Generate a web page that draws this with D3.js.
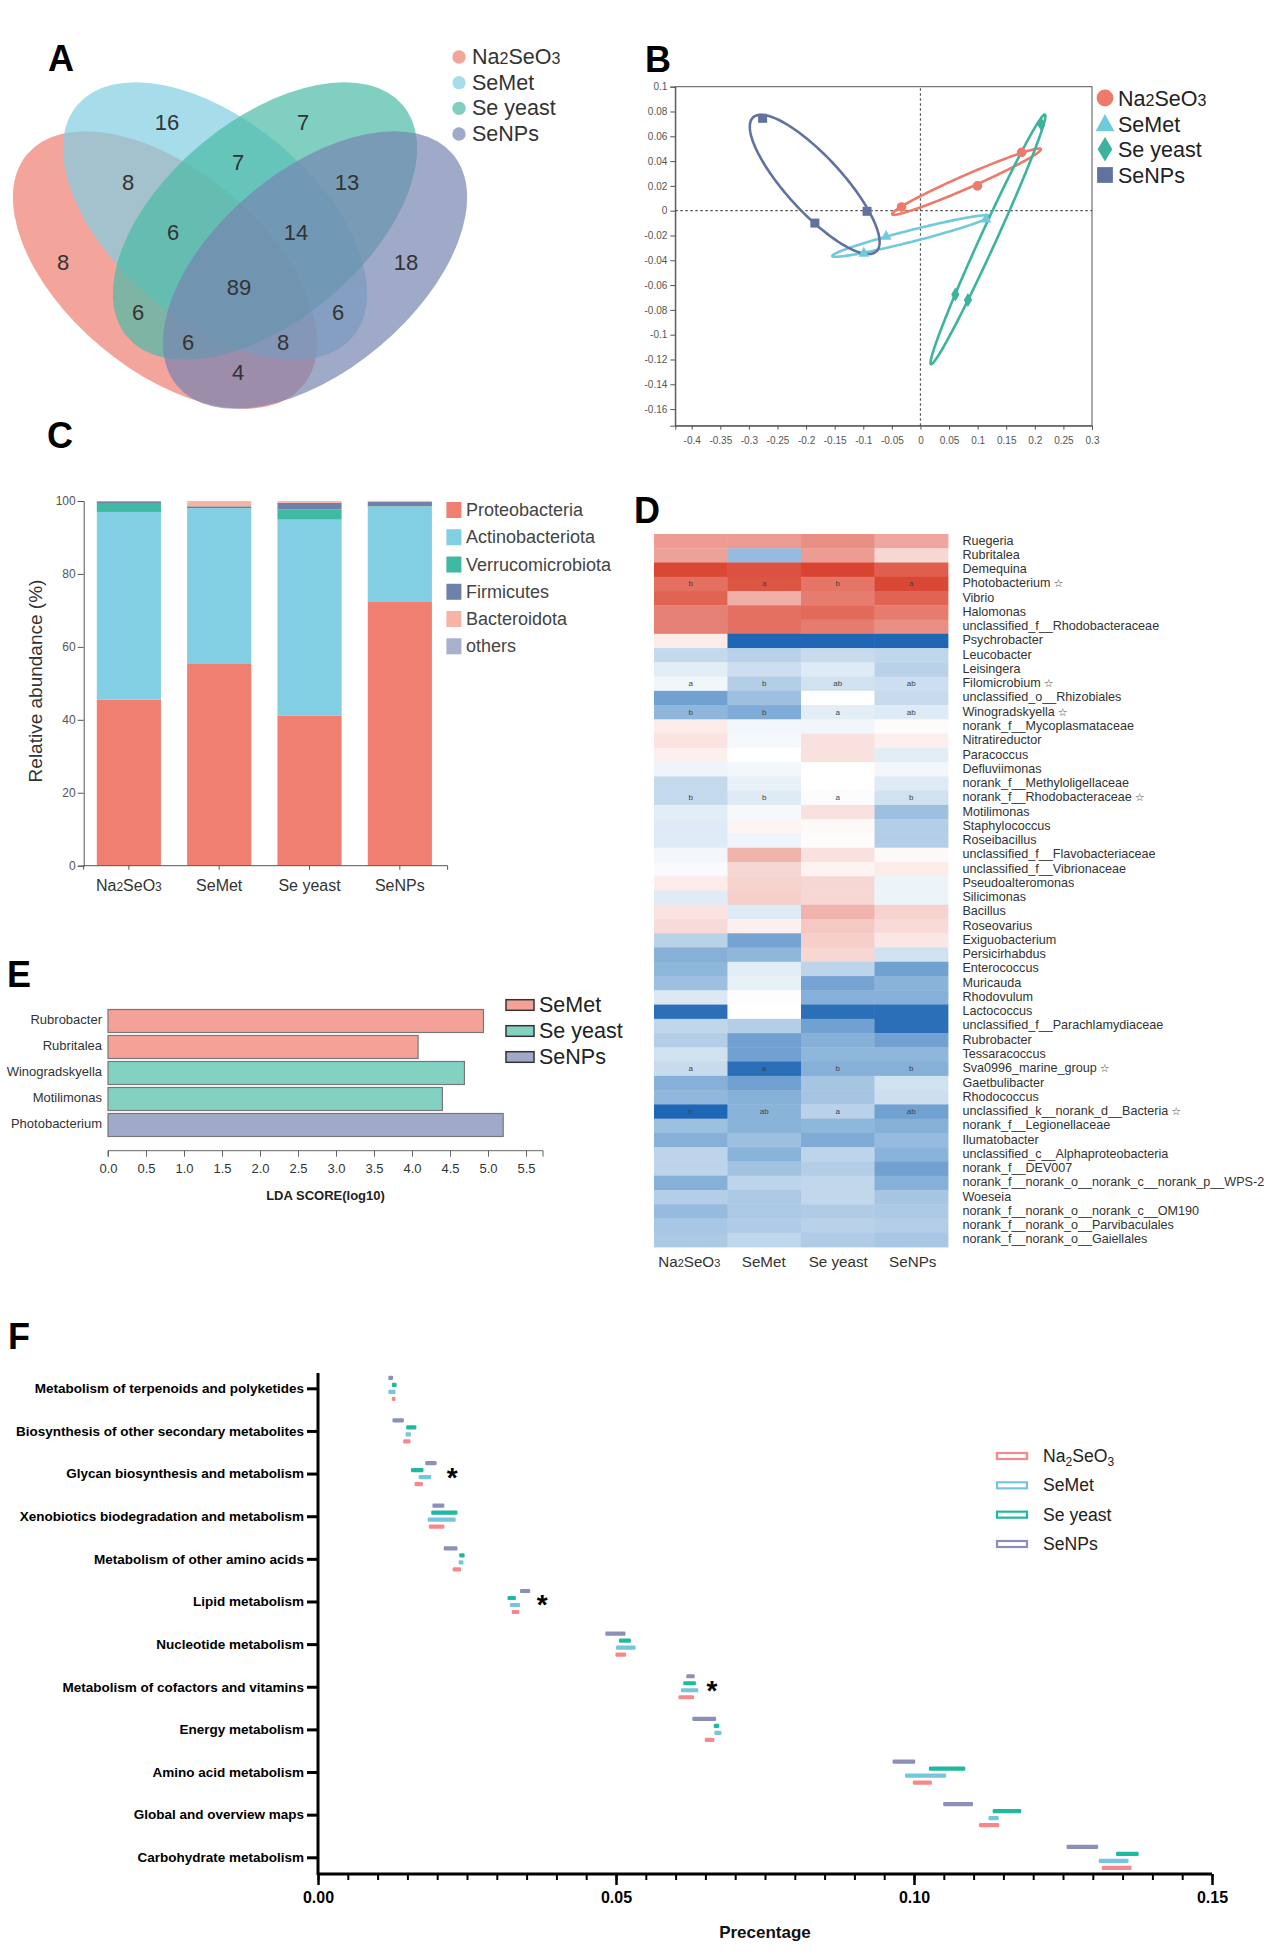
<!DOCTYPE html>
<html><head><meta charset="utf-8">
<script src="https://cdn.jsdelivr.net/npm/d3@7"></script>
<style>
html,body{margin:0;padding:0;background:#fff}
svg{display:block}
text{font-family:"Liberation Sans",Arial,sans-serif}
</style></head><body>
<svg id="fig" width="1268" height="1958"></svg>
<script>
// ---------- shared ----------
const groups = ["Na2SeO3","SeMet","Se yeast","SeNPs"];
// ---------- A: venn ----------
const vennNames = ["Na2SeO3","SeMet","Se yeast","SeNPs"];
const vennColors = ["#ef7f70","#82cee3","#4abba6","#7684b1"];
const vennCounts = [16,7,7,8,13,6,14,8,18,89,6,6,6,8,4];
// ---------- B: PCoA ----------
const pcoaXTicks = [-0.4,-0.35,-0.3,-0.25,-0.2,-0.15,-0.1,-0.05,0,0.05,0.1,0.15,0.2,0.25,0.3];
const pcoaYTicks = [0.1,0.08,0.06,0.04,0.02,0,-0.02,-0.04,-0.06,-0.08,-0.1,-0.12,-0.14,-0.16];
const pcoaColors = ["#ed7a6b","#70cadc","#3db39e","#6272a0"];
const pcoaX = [[-0.033,0.0997,0.177],[-0.06,-0.099,0.1146],[0.2115,0.061,0.083],[-0.276,-0.1846,-0.0934]];
const pcoaY = [[0.003,0.02,0.047],[-0.02,-0.0336,-0.006],[0.0696,-0.0675,-0.072],[0.0745,-0.01,-0.0005]];
// ellipse centre, half-span vector, vertical half thickness, in data units
const ellipseCx = [0.0806,-0.0163,0.1181,-0.1849];
const ellipseCy = [0.0234,-0.0204,-0.0231,0.0212];
const ellipseUx = [0.130,0.1379,0.1004,0.1135];
const ellipseUy = [0.0261,0.0161,0.0995,-0.0465];
const ellipseDy = [0.0058,0.0048,0.0153,0.0315];
// ---------- C: stacked bars ----------
const phyla = ["Proteobacteria","Actinobacteriota","Verrucomicrobiota","Firmicutes","Bacteroidota","others"];
const phylaColors = ["#ef7f70","#82cee3","#3fb9a1","#6e81a8","#f7b3a4","#a7b1cc"];
const proteobacteria = [45.5,55.3,41.2,72.3];
const actinobacteriota = [51.5,42.7,53.7,26.2];
const verrucomicrobiota = [2.45,0.05,2.8,0.05];
const firmicutes = [0.45,0.5,1.8,1.2];
const bacteroidota = [0,1.4,0.4,0.3];
const othersAb = [0.1,0.05,0.1,0];
const abTicks = [0,20,40,60,80,100];
// ---------- D: heatmap ----------
const genera = ["Ruegeria","Rubritalea","Demequina","Photobacterium","Vibrio","Halomonas","unclassified_f__Rhodobacteraceae","Psychrobacter","Leucobacter","Leisingera","Filomicrobium","unclassified_o__Rhizobiales","Winogradskyella","norank_f__Mycoplasmataceae","Nitratireductor","Paracoccus","Defluviimonas","norank_f__Methyloligellaceae","norank_f__Rhodobacteraceae","Motilimonas","Staphylococcus","Roseibacillus","unclassified_f__Flavobacteriaceae","unclassified_f__Vibrionaceae","Pseudoalteromonas","Silicimonas","Bacillus","Roseovarius","Exiguobacterium","Persicirhabdus","Enterococcus","Muricauda","Rhodovulum","Lactococcus","unclassified_f__Parachlamydiaceae","Rubrobacter","Tessaracoccus","Sva0996_marine_group","Gaetbulibacter","Rhodococcus","unclassified_k__norank_d__Bacteria","norank_f__Legionellaceae","Ilumatobacter","unclassified_c__Alphaproteobacteria","norank_f__DEV007","norank_f__norank_o__norank_c__norank_p__WPS-2","Woeseia","norank_f__norank_o__norank_c__OM190","norank_f__norank_o__Parvibaculales","norank_f__norank_o__Gaiellales"];
const heatNa = [.5,.47,.98,.75,.82,.65,.65,.1,-.25,-.12,-.06,-.62,-.48,.1,.14,.08,-.07,-.25,-.25,-.12,-.14,-.14,-.05,-.03,.1,-.13,.14,.18,-.3,-.52,-.48,-.42,-.15,-.95,-.27,-.32,-.2,-.24,-.52,-.47,-1,-.42,-.52,-.28,-.28,-.52,-.32,-.45,-.37,-.35];
const heatMet = [.5,-.45,.92,.9,.4,.75,.75,-1,-.3,-.22,-.32,-.42,-.55,-.05,-.04,0,-.05,-.1,-.14,-.04,.05,-.07,.38,.2,.22,.24,-.14,.08,-.6,-.48,-.12,-.1,-.01,0,-.32,-.62,-.62,-.95,-.62,-.52,-.5,-.5,-.42,-.5,-.4,-.28,-.36,-.36,-.34,-.27];
const heatYeast = [.58,.5,1,.72,.68,.78,.68,-1,-.24,-.14,-.2,0,-.12,-.06,.15,.15,0,0,-.02,.15,.03,.02,.15,.06,.2,.2,.38,.28,.24,.2,-.28,-.6,-.52,-.95,-.62,-.52,-.48,-.52,-.38,-.38,-.3,-.48,-.55,-.28,-.32,-.26,-.26,-.34,-.3,-.34];
const heatNPs = [.45,.2,.85,.97,.82,.68,.58,-1,-.27,-.3,-.22,-.24,-.14,.02,.08,-.12,-.05,-.14,-.2,-.42,-.32,-.32,.03,.1,-.08,-.08,.22,.18,.12,-.2,-.62,-.5,-.52,-.95,-.95,-.62,-.48,-.52,-.2,-.22,-.62,-.52,-.45,-.5,-.62,-.52,-.38,-.36,-.32,-.37];
const starred = ["Photobacterium","Filomicrobium","Winogradskyella","norank_f__Rhodobacteraceae","Sva0996_marine_group","unclassified_k__norank_d__Bacteria"];
const sigLetters = [["b","a","b","a"],["a","b","ab","ab"],["b","b","a","ab"],["b","b","a","b"],["a","a","b","b"],["b","ab","a","ab"]];
// ---------- E: LDA ----------
const ldaTaxa = ["Rubrobacter","Rubritalea","Winogradskyella","Motilimonas","Photobacterium"];
const ldaScore = [4.94,4.08,4.69,4.40,5.20];
const ldaGroup = ["SeMet","SeMet","Se yeast","Se yeast","SeNPs"];
const ldaTicks = [0,0.5,1,1.5,2,2.5,3,3.5,4,4.5,5,5.5];
const ldaLegend = ["SeMet","Se yeast","SeNPs"];
const ldaColors = ["#f4a298","#82d1c1","#a0a9c7"];
// ---------- F: floating bars ----------
const pathways = ["Metabolism of terpenoids and polyketides","Biosynthesis of other secondary metabolites","Glycan biosynthesis and metabolism","Xenobiotics biodegradation and metabolism","Metabolism of other amino acids","Lipid metabolism","Nucleotide metabolism","Metabolism of cofactors and vitamins","Energy metabolism","Amino acid metabolism","Global and overview maps","Carbohydrate metabolism"];
const naMin = [.0124,.0143,.0162,.0186,.0226,.0325,.0499,.0605,.0649,.0998,.1109,.1315];
const naMax = [.0130,.0155,.0176,.0212,.0240,.0338,.0517,.0631,.0665,.1030,.1143,.1365];
const metMin = [.0118,.0147,.0169,.0184,.0236,.0322,.0500,.0609,.0665,.0985,.1125,.1310];
const metMax = [.0130,.0156,.0190,.0231,.0244,.0339,.0533,.0638,.0677,.1054,.1142,.1360];
const yeastMin = [.0124,.0148,.0156,.0190,.0237,.0318,.0505,.0613,.0664,.1025,.1132,.1339];
const yeastMax = [.0132,.0165,.0177,.0234,.0246,.0332,.0525,.0634,.0673,.1086,.1180,.1377];
const npsMin = [.0118,.0125,.0180,.0192,.0211,.0339,.0482,.0618,.0628,.0964,.1049,.1256];
const npsMax = [.0126,.0144,.0199,.0212,.0234,.0356,.0516,.0632,.0668,.1002,.1099,.1309];
const pathColors = ["#f4888a","#74c5de","#20b89f","#8c8fb8"];
const starPathways = ["Glycan biosynthesis and metabolism","Lipid metabolism","Metabolism of cofactors and vitamins"];
const starAt = [.0225,.0376,.0661];
const pctTicks = [0,.05,.1,.15];

// ---------- drawing ----------
const svg = d3.select("#fig");
function chem(sel,name,size,sub,dy){
  // writes a label, with the 2 and 3 of Na2SeO3 smaller
  sel.text(null);
  if(name!=="Na2SeO3"){sel.text(name);return;}
  [["Na",0],["2",1],["SeO",0],["3",1]].forEach(([t,s],i,a)=>{
    const ts=sel.append("tspan").text(t).style("font-size",(s?sub:size)+"px");
    if(dy){ if(s) ts.attr("dy",dy); else if(i>0) ts.attr("dy",-dy); }
  });
}
function panelLabel(t,x,y){
  svg.append("text").text(t).attr("x",x).attr("y",y).attr("font-size",36).attr("fill","#000").style("font-family","'Liberation Sans Narrow','Liberation Sans',sans-serif").style("font-weight","bold");
}
panelLabel("A",48,71);panelLabel("B",645,72);panelLabel("C",47,448);panelLabel("D",634,523);panelLabel("E",7,987);panelLabel("F",8,1349);

// A
(function(){
  const g=svg.append("g");
  const centers=[[165,270,40],[215,221,40],[265,221,-40],[315,270,-40]];
  g.selectAll("ellipse").data(vennNames).join("ellipse")
    .attr("rx",180).attr("ry",100)
    .attr("transform",(d,i)=>`translate(${centers[i][0]},${centers[i][1]}) rotate(${centers[i][2]})`)
    .attr("fill",(d,i)=>vennColors[i]).attr("fill-opacity",.7);
  const pos=[[167,122],[303,122],[238,162],[128,182],[347,182],[173,232],[296,232],[63,262],[406,262],[239,287],[138,312],[338,312],[188,342],[283,342],[238,372]];
  g.selectAll("text.c").data(vennCounts).join("text").attr("class","c")
    .attr("x",(d,i)=>pos[i][0]).attr("y",(d,i)=>pos[i][1]).attr("text-anchor","middle").attr("dominant-baseline","central")
    .attr("font-size",22).attr("fill","#333").text(d=>d);
  const ly=d3.scalePoint().domain(vennNames).range([57,134]);
  g.selectAll("circle").data(vennNames).join("circle").attr("cx",459).attr("cy",d=>ly(d)).attr("r",6.7)
    .attr("fill",(d,i)=>vennColors[i]).attr("fill-opacity",.7);
  g.selectAll("text.l").data(vennNames).join("text").attr("class","l").attr("x",472).attr("y",d=>ly(d)+7)
    .attr("font-size",21.5).attr("fill","#333").each(function(d){chem(d3.select(this),d,21.5,16);});
})();

// B
(function(){
  const x=d3.scaleLinear().domain([-0.4287,0.3]).range([675.3,1092]);
  const y=d3.scaleLinear().domain([-0.1734,0.1]).range([425.7,86.7]);
  const g=svg.append("g");
  g.append("rect").attr("x",675.3).attr("y",86.7).attr("width",1092-675.3).attr("height",425.7-86.7).attr("fill","none").attr("stroke","#555").attr("stroke-width",1);
  const ax=g.append("g").attr("transform","translate(0,425.7)").call(d3.axisBottom(x).tickValues(pcoaXTicks).tickSize(4).tickPadding(7).tickFormat(d=>String(d)));
  const ay=g.append("g").attr("transform","translate(675.3,0)").call(d3.axisLeft(y).tickValues(pcoaYTicks).tickSize(5).tickPadding(3).tickFormat(d=>String(d)));
  [ax,ay].forEach(a=>{a.selectAll("text").attr("font-size",10).attr("fill","#555").style("font-family","'Liberation Sans'");a.selectAll("line,path").attr("stroke","#555");});
  g.append("line").attr("x1",x.range()[0]).attr("x2",x.range()[1]).attr("y1",y(0)).attr("y2",y(0)).attr("stroke","#555").attr("stroke-dasharray","2.5 2.5").attr("stroke-width",1.2);
  g.append("line").attr("x1",x(0)).attr("x2",x(0)).attr("y1",y.range()[0]).attr("y2",y.range()[1]).attr("stroke","#555").attr("stroke-dasharray","2.5 2.5").attr("stroke-width",1.2);
  const line=d3.line().curve(d3.curveLinearClosed);
  const ts=d3.range(0,2*Math.PI,Math.PI/90);
  groups.forEach((n,i)=>{
    g.append("path").attr("fill","none").attr("stroke",pcoaColors[i]).attr("stroke-width",2.6)
      .attr("d",line(ts.map(t=>[x(ellipseCx[i]+ellipseUx[i]*Math.cos(t)),y(ellipseCy[i]+ellipseUy[i]*Math.cos(t)+ellipseDy[i]*Math.sin(t))])));
  });
  const sym=(i,px,py,k)=>{
    const c=pcoaColors[i];
    if(i===0) g.append("ellipse").attr("cx",px).attr("cy",py).attr("rx",4.8*k).attr("ry",4.8*k).attr("fill",c);
    if(i===1) g.append("path").attr("d",`M${px},${py-5.5*k}L${px+5.4*k},${py+4.3*k}L${px-5.4*k},${py+4.3*k}Z`).attr("fill",c);
    if(i===2) g.append("path").attr("d",`M${px},${py-7*k}L${px+4.2*k},${py}L${px},${py+7*k}L${px-4.2*k},${py}Z`).attr("fill",c);
    if(i===3) g.append("rect").attr("x",px-4.5*k).attr("y",py-4.5*k).attr("width",9*k).attr("height",9*k).attr("fill",c);
  };
  groups.forEach((n,i)=>pcoaX[i].forEach((v,j)=>sym(i,x(v),y(pcoaY[i][j]),1)));
  const ly=d3.scalePoint().domain(groups).range([98,175]);
  groups.forEach((n,i)=>{
    sym(i,1105,ly(n),1.75);
    g.append("text").attr("x",1118).attr("y",ly(n)+8).attr("font-size",21.5).attr("fill","#222").each(function(){chem(d3.select(this),n,21.5,16);});
  });
})();

// C
(function(){
  const series=[proteobacteria,actinobacteriota,verrucomicrobiota,firmicutes,bacteroidota,othersAb];
  const rows=groups.map((g,i)=>{const o={g};phyla.forEach((p,k)=>o[p]=series[k][i]);return o;});
  const x=d3.scaleBand().domain(groups).range([83.7,445]).paddingInner(.29).paddingOuter(.145);
  const y=d3.scaleLinear().domain([0,100]).range([865.7,501]);
  const stack=d3.stack().keys(phyla)(rows);
  const g=svg.append("g");
  g.selectAll("g.s").data(stack).join("g").attr("class","s").attr("fill",(d,i)=>phylaColors[i])
    .selectAll("rect").data(d=>d).join("rect")
    .attr("x",d=>x(d.data.g)).attr("width",x.bandwidth()).attr("y",d=>y(d[1])).attr("height",d=>y(d[0])-y(d[1]));
  const ay=g.append("g").attr("transform","translate(83.7,0)").call(d3.axisLeft(y).tickValues(abTicks).tickSize(6).tickPadding(2));
  ay.selectAll("text").attr("font-size",12).attr("fill","#555").style("font-family","'Liberation Sans'");
  ay.selectAll("line,path").attr("stroke","#555");
  const ax=g.append("g").attr("transform","translate(0,865.7)").call(d3.axisBottom(x).tickSize(4).tickPadding(6).tickFormat(""));
  ax.selectAll("line").attr("stroke","#555");ax.select("path").attr("stroke","#555").attr("d","M83.7,4V0H447.6V4");
  g.selectAll("text.xl").data(groups).join("text").attr("class","xl").attr("x",d=>x(d)+x.bandwidth()/2).attr("y",890.5).attr("text-anchor","middle")
    .attr("font-size",16).attr("fill","#333").each(function(d){chem(d3.select(this),d,16,12);});
  g.append("text").attr("transform","translate(42,681) rotate(-90)").attr("text-anchor","middle").attr("font-size",19).attr("fill","#333").text("Relative abundance (%)");
  const ly=d3.scalePoint().domain(phyla).range([510,646.3]);
  g.selectAll("rect.l").data(phyla).join("rect").attr("class","l").attr("x",446.4).attr("y",d=>ly(d)-8).attr("width",15).attr("height",16).attr("fill",(d,i)=>phylaColors[i]);
  g.selectAll("text.l").data(phyla).join("text").attr("class","l").attr("x",466).attr("y",d=>ly(d)+6).attr("font-size",18).attr("fill","#444").text(d=>d);
})();

// D
(function(){
  const x=d3.scaleBand().domain(groups).range([654,948]);
  const y=d3.scaleBand().domain(genera).range([534,1247]);
  const color=d3.scaleLinear().domain([-1,-.5,0,.5,1]).range(["#1f67b4","#8ab3da","#ffffff","#ec9c93","#d9432f"]);
  const g=svg.append("g");
  [heatNa,heatMet,heatYeast,heatNPs].forEach((col,j)=>{
    g.append("g").selectAll("rect").data(col).join("rect")
      .attr("x",x(groups[j])).attr("width",x.bandwidth()+.4).attr("y",(d,i)=>y(genera[i])).attr("height",y.bandwidth()+.4).attr("fill",d=>color(d));
  });
  starred.forEach((s,k)=>sigLetters[k].forEach((t,j)=>{
    g.append("text").attr("x",x(groups[j])+x.bandwidth()/2).attr("y",y(s)+y.bandwidth()/2).attr("text-anchor","middle").attr("dominant-baseline","central").attr("font-size",8).attr("fill","#444").text(t);
  }));
  const rl=g.selectAll("text.r").data(genera).join("text").attr("class","r").attr("x",962.4).attr("y",d=>y(d)+y.bandwidth()/2-0.5).attr("dominant-baseline","central").attr("font-size",12.6).attr("fill","#333").text(d=>d);
  rl.filter(d=>starred.includes(d)).append("tspan").attr("dx",3).attr("font-size",11).attr("fill","#444").style("font-family","'DejaVu Sans'").text("☆");
  const xc=d3.scaleBand().domain(groups).range([652,950]);
  g.selectAll("text.c").data(groups).join("text").attr("class","c").attr("x",d=>xc(d)+xc.bandwidth()/2).attr("y",1267).attr("text-anchor","middle").attr("font-size",15.2).attr("fill","#333").each(function(d){chem(d3.select(this),d,15.2,11);});
})();

// E
(function(){
  const x=d3.scaleLinear().domain([0,5.5]).range([108,526]);
  const y=d3.scaleBand().domain(ldaTaxa).range([1008,1138]).paddingInner(.115).paddingOuter(.0575);
  const colorOf=d3.scaleOrdinal().domain(ldaLegend).range(ldaColors);
  const g=svg.append("g");
  g.selectAll("rect.b").data(ldaTaxa).join("rect").attr("class","b").attr("x",x(0)).attr("y",d=>y(d)).attr("height",y.bandwidth())
    .attr("width",(d,i)=>x(ldaScore[i])-x(0)).attr("fill",(d,i)=>colorOf(ldaGroup[i])).attr("stroke","#777").attr("stroke-width",1.2);
  g.selectAll("text.t").data(ldaTaxa).join("text").attr("class","t").attr("x",102).attr("y",d=>y(d)+y.bandwidth()/2-2).attr("text-anchor","end").attr("dominant-baseline","central").attr("font-size",13).attr("fill","#333").text(d=>d);
  const ax=g.append("g").attr("transform","translate(0,1150.7)").call(d3.axisBottom(x).tickValues(ldaTicks).tickSize(6).tickPadding(7).tickFormat(d3.format(".1f")));
  ax.selectAll("text").attr("font-size",13).attr("fill","#333").style("font-family","'Liberation Sans'");
  ax.selectAll("line").attr("stroke","#666");
  ax.select("path").attr("stroke","#666").attr("d","M108,6V0H543V6");
  g.append("text").attr("x",325.5).attr("y",1199.5).attr("text-anchor","middle").attr("font-weight","bold").attr("font-size",13).attr("fill","#222").text("LDA SCORE(log10)");
  const ly=d3.scalePoint().domain(ldaLegend).range([1005,1057]);
  g.selectAll("rect.l").data(ldaLegend).join("rect").attr("class","l").attr("x",506).attr("y",d=>ly(d)-5.3).attr("width",28).attr("height",10.6).attr("fill",d=>colorOf(d)).attr("stroke","#333").attr("stroke-width",1.5);
  g.selectAll("text.l").data(ldaLegend).join("text").attr("class","l").attr("x",539).attr("y",d=>ly(d)+7).attr("font-size",21.5).attr("fill","#222").text(d=>d);
})();

// F
(function(){
  const x=d3.scaleLinear().domain([0,.15]).range([318,1212]);
  const y=d3.scalePoint().domain(pathways).range([1388.3,1857.3]);
  const g=svg.append("g");
  const off=d3.scalePoint().domain(["SeNPs","Se yeast","SeMet","Na2SeO3"]).range([-10.5,10.5]);
  const spans=[[naMin,naMax],[metMin,metMax],[yeastMin,yeastMax],[npsMin,npsMax]];
  groups.forEach((n,j)=>{
    g.append("g").selectAll("rect").data(pathways).join("rect")
      .attr("x",(d,i)=>x(spans[j][0][i])).attr("width",(d,i)=>x(spans[j][1][i])-x(spans[j][0][i]))
      .attr("y",d=>y(d)+off(n)-2.1).attr("height",4.2).attr("rx",1.2).attr("fill",pathColors[j]);
  });
  const ay=g.append("g").attr("transform","translate(318,0)").call(d3.axisLeft(y).tickSize(11).tickPadding(3));
  ay.selectAll("line").attr("stroke","#000").attr("stroke-width",3);
  ay.select("path").attr("stroke","#000").attr("stroke-width",3).attr("d","M0,1373V1875");
  ay.selectAll("text").attr("font-size",13.5).attr("font-weight","bold").attr("fill","#000").style("font-family","'Liberation Sans'");
  const minor=d3.range(0,31).map(i=>i*.005);
  const ax=g.append("g").attr("transform","translate(0,1874)").call(d3.axisBottom(x).tickValues(minor).tickSize(6).tickFormat(""));
  ax.selectAll("line").attr("stroke","#000").attr("stroke-width",2);
  ax.select("path").attr("stroke","#000").attr("stroke-width",3).attr("d","M318,0H1212");
  const ax2=g.append("g").attr("transform","translate(0,1874)").call(d3.axisBottom(x).tickValues(pctTicks).tickSize(11).tickPadding(7).tickFormat(d3.format(".2f")));
  ax2.select("path").remove();
  ax2.selectAll("line").attr("stroke","#000").attr("stroke-width",2.5);
  ax2.selectAll("text").attr("font-size",16).attr("font-weight","bold").attr("fill","#000").style("font-family","'Liberation Sans'");
  g.append("text").attr("x",765).attr("y",1938).attr("text-anchor","middle").attr("font-size",17).attr("font-weight","bold").attr("fill","#111").text("Precentage");
  starPathways.forEach((p,i)=>g.append("text").attr("x",x(starAt[i])).attr("y",y(p)+13).attr("text-anchor","middle").attr("font-size",28).attr("font-weight","bold").attr("fill","#000").text("*"));
  const ly=d3.scalePoint().domain(groups).range([1456,1544]);
  g.selectAll("rect.l").data(groups).join("rect").attr("class","l").attr("x",997).attr("y",d=>ly(d)-3).attr("width",30).attr("height",6).attr("fill","#fff").attr("stroke",(d,i)=>pathColors[i]).attr("stroke-width",2.2);
  g.selectAll("text.l").data(groups).join("text").attr("class","l").attr("x",1043).attr("y",d=>ly(d)+6).attr("font-size",17.6).attr("fill","#222").each(function(d){chem(d3.select(this),d,17.6,12,4);});
})();
</script>
</body></html>
